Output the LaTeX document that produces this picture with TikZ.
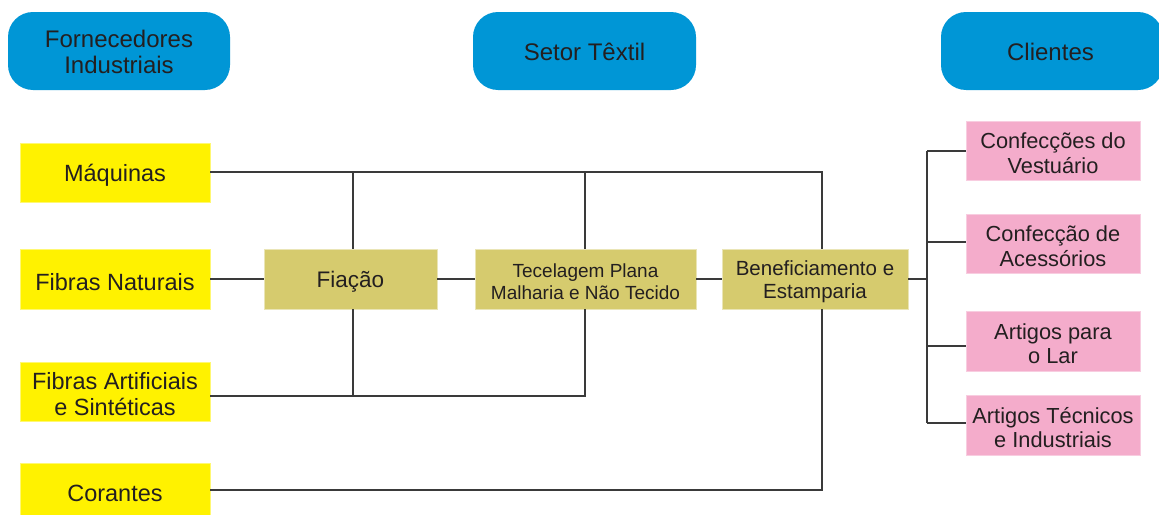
\documentclass[tikz,border=0pt]{standalone}
\usepackage{fontspec}
\setmainfont{Liberation Sans}
\definecolor{ink}{HTML}{231F20}
\definecolor{hdrblue}{HTML}{0096D6}
\definecolor{supyellow}{HTML}{FFF200}
\definecolor{procolive}{HTML}{D6CB6E}
\definecolor{clipink}{HTML}{F4ACCB}
\definecolor{wiregray}{HTML}{3A3A3A}
\tikzset{
  box/.style={inner sep=0pt, line width=0.8pt},
  lbl/.style={align=center, text=ink, inner sep=0pt, yshift=-2.8pt},
  hdrlbl/.style={lbl, yshift=1.8pt, font=\fontsize{24}{26.5}\selectfont},
  hdr/.style={box, fill=hdrblue, rounded corners=25pt, minimum height=78pt},
  suplbl/.style={lbl, font=\fontsize{23.5}{26}\selectfont},
  supbox/.style={box, fill=supyellow, draw=supyellow!55!white, minimum width=190pt},
  procbox/.style={box, fill=procolive, draw=procolive!50!white, minimum height=60pt},
  clilbl/.style={lbl, font=\fontsize{21.8}{24.5}\selectfont},
  clibox/.style={box, fill=clipink, draw=clipink!60!white, minimum width=174pt}
}
\tikzset{wire/.style={draw=wiregray, line width=1.3pt}}
\begin{document}
\begin{tikzpicture}[x=1pt, y=-1pt]
\useasboundingbox (0,0) rectangle (1159,514);
\fill[white] (0,0) rectangle (1159,514);

% column headers
\node[hdr, minimum width=222pt, label={[hdrlbl]center:Fornecedores\\Industriais}] (hsup) at (119,51) {};
\node[hdr, minimum width=223pt, label={[hdrlbl]center:Setor Têxtil}] (htex) at (584.5,51) {};
\node[hdr, minimum width=222pt, label={[hdrlbl, xshift=-1.5pt]center:Clientes}] (hcli) at (1052,51) {};

% suppliers
\node[supbox, minimum height=59pt, label={[suplbl]center:Máquinas}] (maq) at (115,172.5) {};
\node[supbox, minimum height=60pt, label={[suplbl]center:Fibras Naturais}] (fnat) at (115,279) {};
\node[supbox, minimum height=59pt, label={[suplbl]center:Fibras Artificiais\\e Sintéticas}] (fart) at (115,391.5) {};
\node[supbox, minimum height=52pt, label={[suplbl, yshift=-1.5pt]center:Corantes}] (cor) at (115,489) {};

% textile chain
\node[procbox, minimum width=173pt, label={[lbl, font=\fontsize{22.5}{26}\selectfont]center:Fiação}] (fia) at (350.5,279) {};
\node[procbox, minimum width=221pt, label={[lbl, font=\fontsize{19}{22.5}\selectfont]center:Tecelagem Plana\\Malharia e Não Tecido}] (tec) at (585.5,279) {};
\node[procbox, minimum width=186pt, label={[lbl, font=\fontsize{20.5}{23}\selectfont]center:Beneficiamento e\\Estamparia}] (ben) at (815,279) {};

% clients
\node[clibox, minimum height=59pt, label={[clilbl]center:Confecções do\\Vestuário}] (vest) at (1053,150.5) {};
\node[clibox, minimum height=59pt, label={[clilbl]center:Confecção de\\Acessórios}] (aces) at (1053,243.5) {};
\node[clibox, minimum height=60pt, label={[clilbl]center:Artigos para\\o Lar}] (lar) at (1053,341) {};
\node[clibox, minimum height=60pt, label={[clilbl]center:Artigos Técnicos\\e Industriais}] (tecn) at (1053,425) {};

% junction points
\coordinate (j1) at (353,172);
\coordinate (j2) at (585,172);
\coordinate (j3) at (822,172);
\coordinate (k1) at (353,396);
\coordinate (k2) at (585,396);
\coordinate (k3) at (822,490);
\coordinate (b0) at (927,279);
\coordinate (c1) at (927,151);
\coordinate (c2) at (927,242);
\coordinate (c3) at (927,346);
\coordinate (c4) at (927,423);

% machines feed every stage
\draw[wire] (maq.east |- j1) -- (j3) -- (j3 |- ben.north);
\draw[wire] (j1) -- (j1 |- fia.north);
\draw[wire] (j2) -- (j2 |- tec.north);

% main chain
\draw[wire] (fnat.east) -- (fia.west);
\draw[wire] (fia.east) -- (tec.west);
\draw[wire] (tec.east) -- (ben.west);

% synthetic fibres
\draw[wire] (fart.east |- k1) -- (k2) -- (k2 |- tec.south);
\draw[wire] (k1 |- fia.south) -- (k1);

% dyes
\draw[wire] (cor.east |- k3) -- (k3) -- (k3 |- ben.south);

% distribution to clients
\draw[wire] (ben.east) -- (b0);
\draw[wire] (c1) -- (c4);
\draw[wire] (c1) -- (c1 -| vest.west);
\draw[wire] (c2) -- (c2 -| aces.west);
\draw[wire] (c3) -- (c3 -| lar.west);
\draw[wire] (c4) -- (c4 -| tecn.west);
\end{tikzpicture}
\end{document}
